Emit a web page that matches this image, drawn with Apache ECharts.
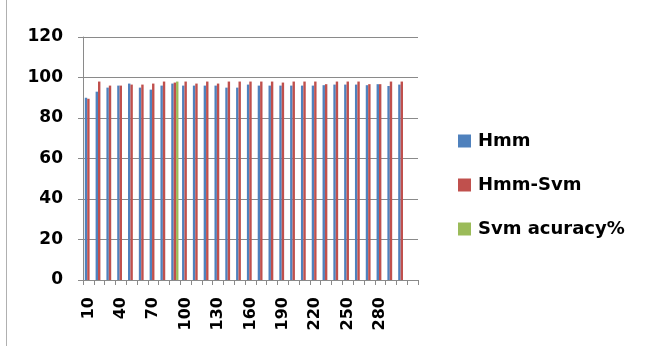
<!DOCTYPE html>
<html>
<head>
<meta charset="utf-8">
<script src="https://cdn.jsdelivr.net/npm/echarts@6/dist/echarts.min.js"></script>
<style>
  html, body { margin: 0; padding: 0; background: #ffffff; }
  #chart { width: 652px; height: 346px; }
</style>
</head>
<body>
<div id="chart"></div>
<script>
// Sample counts on the x axis (the last slot is an empty row)
var categories = ['10','20','30','40','50','60','70','80','90','100',
                  '110','120','130','140','150','160','170','180','190','200',
                  '210','220','230','240','250','260','270','280','290','300',''];

// Accuracy (%) per sample count
var hmm = [90, 93, 95, 96, 97, 95, 94, 96, 97, 96,
           96, 96, 96, 95, 95, 96.5, 96, 96, 96, 96,
           96, 96, 96.2, 96.5, 96.5, 96.5, 96.2, 96.7, 95.8, 96.5, null];
var hmmSvm = [89.5, 98, 96, 96, 96.5, 96.5, 97, 98, 97.5, 98,
              97, 98, 97, 98, 98, 98, 98, 98, 97.5, 98,
              98, 98, 96.7, 98, 98, 98, 96.7, 96.7, 98, 98, null];
var svmAcc = [null, null, null, null, null, null, null, null, 98, null,
              null, null, null, null, null, null, null, null, null, null,
              null, null, null, null, null, null, null, null, null, null, null];

var yTicks = { min: 0, max: 120, step: 20 };

var FONT = 'DejaVu Sans';
var chart = echarts.init(document.getElementById('chart'), null, { renderer: 'canvas' });

chart.setOption({
  backgroundColor: '#ffffff',
  animation: false,
  color: ['#4F81BD', '#C0504D', '#9BBB59'],
  grid: { left: 83, right: 234, top: 37, bottom: 66 },
  legend: {
    orient: 'vertical',
    left: 458,
    top: 132,
    padding: 0,
    itemGap: 26,
    itemWidth: 13,
    itemHeight: 13,
    icon: 'rect',
    textStyle: { fontFamily: FONT, fontWeight: 'bold', fontSize: 18, color: '#000000', padding: [0, 0, 0, 2] },
    data: ['Hmm', 'Hmm-Svm', 'Svm acuracy%']
  },
  xAxis: {
    type: 'category',
    data: categories,
    boundaryGap: true,
    axisLine: { lineStyle: { color: '#8a8a8a', width: 1 } },
    axisTick: { show: true, interval: 0, length: 5, lineStyle: { color: '#8a8a8a' } },
    axisLabel: {
      interval: 2,
      rotate: 90,
      margin: 17,
      fontFamily: FONT,
      fontWeight: 'bold',
      fontSize: 16,
      color: '#000000'
    },
    splitLine: { show: false }
  },
  yAxis: {
    type: 'value',
    min: yTicks.min,
    max: yTicks.max,
    interval: yTicks.step,
    axisLine: { show: true, lineStyle: { color: '#8a8a8a', width: 1 } },
    axisTick: { show: true, length: 5, lineStyle: { color: '#8a8a8a' } },
    axisLabel: {
      margin: 20,
      fontFamily: FONT,
      fontWeight: 'bold',
      fontSize: 17,
      color: '#000000'
    },
    splitLine: { show: true, lineStyle: { color: '#8a8a8a', width: 1 } }
  },
  series: [
    { name: 'Hmm', type: 'bar', data: hmm, barGap: '0%', barCategoryGap: '33.3%' },
    { name: 'Hmm-Svm', type: 'bar', data: hmmSvm, barGap: '0%', barCategoryGap: '33.3%' },
    { name: 'Svm acuracy%', type: 'bar', data: svmAcc, barGap: '0%', barCategoryGap: '33.3%' }
  ],
  graphic: [
    {
      type: 'line',
      shape: { x1: 6.5, y1: 0, x2: 6.5, y2: 346 },
      style: { stroke: '#b0b0b0', lineWidth: 1 }
    }
  ]
});
</script>
</body>
</html>
